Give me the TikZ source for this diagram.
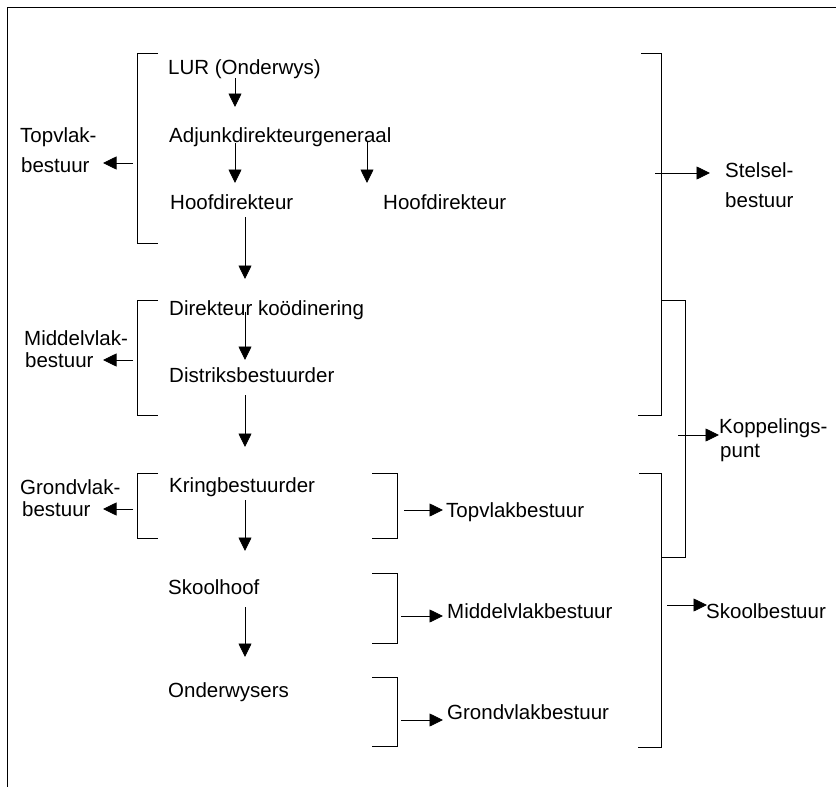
\documentclass[tikz,border=0pt]{standalone}
\usepackage{fontspec}
\setmainfont{Liberation Sans}
\usetikzlibrary{arrows.meta}
\begin{document}
\begin{tikzpicture}[x=1pt,y=-1pt,
  lbl/.style={anchor=base west,inner sep=0pt,font=\fontsize{20.5}{24}\selectfont},
  arr/.style={line width=0.8pt,-{Triangle[length=13.5pt,width=13pt]}},
  brk/.style={line width=0.8pt},
  frame/.style={line width=1pt}]
\useasboundingbox (0,0) rectangle (836,787);
% frame edges
\draw[frame] (7,787) -- (7,7) -- (836,7);

% hierarchy labels
\node[lbl] (lur)   at (168,74)  {LUR (Onderwys)};
\node[lbl] (adj)   at (169,142) {Adjunkdirekteurgeneraal};
\node[lbl] (hd1)   at (170,209) {Hoofdirekteur};
\node[lbl] (hd2)   at (383,209) {Hoofdirekteur};
\node[lbl] (dk)    at (169,315) {Direkteur koödinering};
\node[lbl] (db)    at (169,382) {Distriksbestuurder};
\node[lbl] (kb)    at (169,492) {Kringbestuurder};
\node[lbl] (sh)    at (168,594) {Skoolhoof};
\node[lbl] (ow)    at (168,697) {Onderwysers};

% level labels, left
\node[lbl] (top1)  at (20,142) {Topvlak-};
\node[lbl] (top2)  at (21,172) {bestuur};
\node[lbl] (mid1)  at (24,345) {Middelvlak-};
\node[lbl] (mid2)  at (25,367) {bestuur};
\node[lbl] (gr1)   at (20,494) {Grondvlak-};
\node[lbl] (gr2)   at (22,516) {bestuur};

% level labels, right
\node[lbl] (rtop)  at (446,517) {Topvlakbestuur};
\node[lbl] (rmid)  at (447,618) {Middelvlakbestuur};
\node[lbl] (rgr)   at (447,719) {Grondvlakbestuur};
\node[lbl] (st1)   at (725,177) {Stelsel-};
\node[lbl] (st2)   at (725,207) {bestuur};
\node[lbl] (kp1)   at (719,433) {Koppelings-};
\node[lbl] (kp2)   at (720,457) {punt};
\node[lbl] (sb)    at (706,618) {Skoolbestuur};

% brackets, left
\draw[brk] (158,53) -- (137,53) -- (137,243) -- (158,243);
\draw[brk] (158,300) -- (137,300) -- (137,415) -- (158,415);
\draw[brk] (158,473) -- (137,473) -- (137,538) -- (158,538);
% brackets, right of the school levels
\draw[brk] (372,473) -- (397,473) -- (397,538) -- (372,538);
\draw[brk] (372,573) -- (397,573) -- (397,643) -- (372,643);
\draw[brk] (372,677) -- (397,677) -- (397,746) -- (372,746);
% large brackets, far right
\draw[brk] (641,53) -- (661,53) -- (661,415) -- (638,415);
\draw[brk] (661,300) -- (685,300) -- (685,557) -- (661,557);
\draw[brk] (639,473) -- (661,473) -- (661,747) -- (638,747);

% arrow end points
\coordinate (a1s) at (235,78);  \coordinate (a1e) at (235,107);
\coordinate (a2s) at (235,143); \coordinate (a2e) at (235,183);
\coordinate (a3s) at (367,141); \coordinate (a3e) at (367,183);
\coordinate (a4s) at (245,217); \coordinate (a4e) at (245,279);
\coordinate (a5s) at (245,312); \coordinate (a5e) at (245,360);
\coordinate (a6s) at (245,395); \coordinate (a6e) at (245,447);
\coordinate (a7s) at (245,500); \coordinate (a7e) at (245,551);
\coordinate (a8s) at (245,607); \coordinate (a8e) at (245,657);

\coordinate (l1s) at (133,163); \coordinate (l1e) at (103,163);
\coordinate (l2s) at (133,360); \coordinate (l2e) at (103,360);
\coordinate (l3s) at (133,509); \coordinate (l3e) at (103,509);

\coordinate (r1s) at (404,510); \coordinate (r1e) at (443,510);
\coordinate (r2s) at (401,616); \coordinate (r2e) at (443,616);
\coordinate (r3s) at (401,720); \coordinate (r3e) at (443,720);

\coordinate (s1s) at (655,173); \coordinate (s1e) at (710,173);
\coordinate (s2s) at (678,435); \coordinate (s2e) at (719,435);
\coordinate (s3s) at (667,605); \coordinate (s3e) at (707,605);

% down arrows of the hierarchy
\foreach \i in {1,...,8} \draw[arr] (a\i s) -- (a\i e);
% level arrows
\foreach \i in {1,2,3} {
  \draw[arr] (l\i s) -- (l\i e);
  \draw[arr] (r\i s) -- (r\i e);
  \draw[arr] (s\i s) -- (s\i e);
}
\end{tikzpicture}
\end{document}
